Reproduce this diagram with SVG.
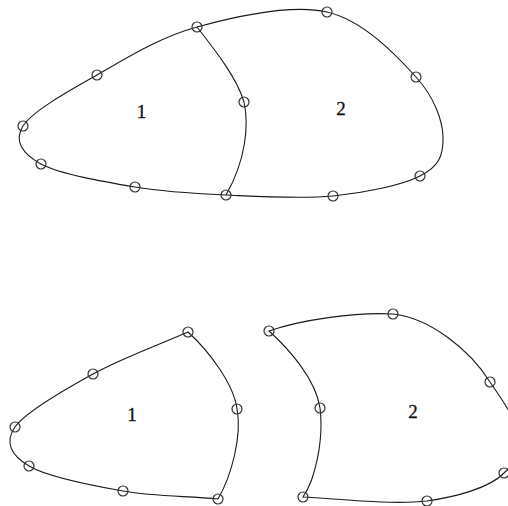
<svg xmlns="http://www.w3.org/2000/svg" width="508" height="506" viewBox="0 0 508 506">
<style>
.edge{fill:none;stroke:#1a1a1a;stroke-width:1.1}
.pt{fill:none;stroke:#333;stroke-width:1.2}
.lbl{font-family:"Liberation Serif","Times New Roman",serif;font-size:19px;fill:#111;stroke:#111;stroke-width:0.3;text-anchor:middle}
</style>
<rect width="508" height="506" fill="#fff"/>
<g id="top-mesh">
  <g id="top-edges">
    <path class="edge" d="M23,126 C32.3,111.2 68,91.5 97,75 C126,58.5 158.7,37.5 197,27 C235.3,16.5 290.5,3.7 327,12 C363.5,20.3 396.7,55.7 416,77 C435.3,98.3 442.3,121.5 443,136 C443.7,156.5 438.3,166.7 420,176 C401.7,185.3 365.3,192.8 333,196 C300.7,199.2 259,196.5 226,195 C193,193.5 165.8,192.2 135,187 C104.2,181.8 59.7,174.2 41,164 C22.3,153.8 13.7,140.8 23,126 Z"/>
    <path class="edge" d="M197,27 C215,50 237,78 244,102 C249,125 246,160 226,195"/>
  </g>
  <g id="top-nodes">
    <circle class="pt" cx="23" cy="126" r="5"/>
    <circle class="pt" cx="97" cy="75" r="5"/>
    <circle class="pt" cx="197" cy="27" r="5"/>
    <circle class="pt" cx="327" cy="12" r="5"/>
    <circle class="pt" cx="416" cy="77" r="5"/>
    <circle class="pt" cx="420" cy="176" r="5"/>
    <circle class="pt" cx="333" cy="196" r="5"/>
    <circle class="pt" cx="226" cy="195" r="5"/>
    <circle class="pt" cx="135" cy="187" r="5"/>
    <circle class="pt" cx="41" cy="164" r="5"/>
    <circle class="pt" cx="244" cy="102" r="5"/>
  </g>
  <text id="top-label-1" class="lbl" x="141.5" y="118">1</text>
  <text id="top-label-2" class="lbl" x="341" y="115">2</text>
</g>
<g id="bottom-left-region">
  <path class="edge" d="M188,332 C156,346 121.8,358.2 93,374 C64.2,389.8 25.7,411.7 15,427 C4.3,442.3 11,455.3 29,466 C47,476.7 91.5,485.5 123,491 C154.5,496.5 186,496 218,499 C232,475 242,435 237,409 C234,385 210,352 188,332 Z"/>
  <circle class="pt" cx="188" cy="332" r="5"/>
  <circle class="pt" cx="93" cy="374" r="5"/>
  <circle class="pt" cx="15" cy="427" r="5"/>
  <circle class="pt" cx="29" cy="466" r="5"/>
  <circle class="pt" cx="123" cy="491" r="5"/>
  <circle class="pt" cx="218" cy="499" r="5"/>
  <circle class="pt" cx="237" cy="409" r="5"/>
  <text class="lbl" x="132" y="421">1</text>
</g>
<g id="bottom-right-region">
  <path class="edge" d="M269,331 C300,320 355,312 393,314 C430,318 470,350 490,382 C502,400 518,420 518,440 C518,458 512,466 504,473 C490,488 455,497 427,501 C390,505 340,499 303,497 C315,480 324,440 320,408 C316,380 290,350 269,331 Z"/>
  <circle class="pt" cx="269" cy="331" r="5"/>
  <circle class="pt" cx="393" cy="314" r="5"/>
  <circle class="pt" cx="490" cy="382" r="5"/>
  <circle class="pt" cx="504" cy="473" r="5"/>
  <circle class="pt" cx="427" cy="501" r="5"/>
  <circle class="pt" cx="303" cy="497" r="5"/>
  <circle class="pt" cx="320" cy="408" r="5"/>
  <text class="lbl" x="413" y="418">2</text>
</g>
</svg>
